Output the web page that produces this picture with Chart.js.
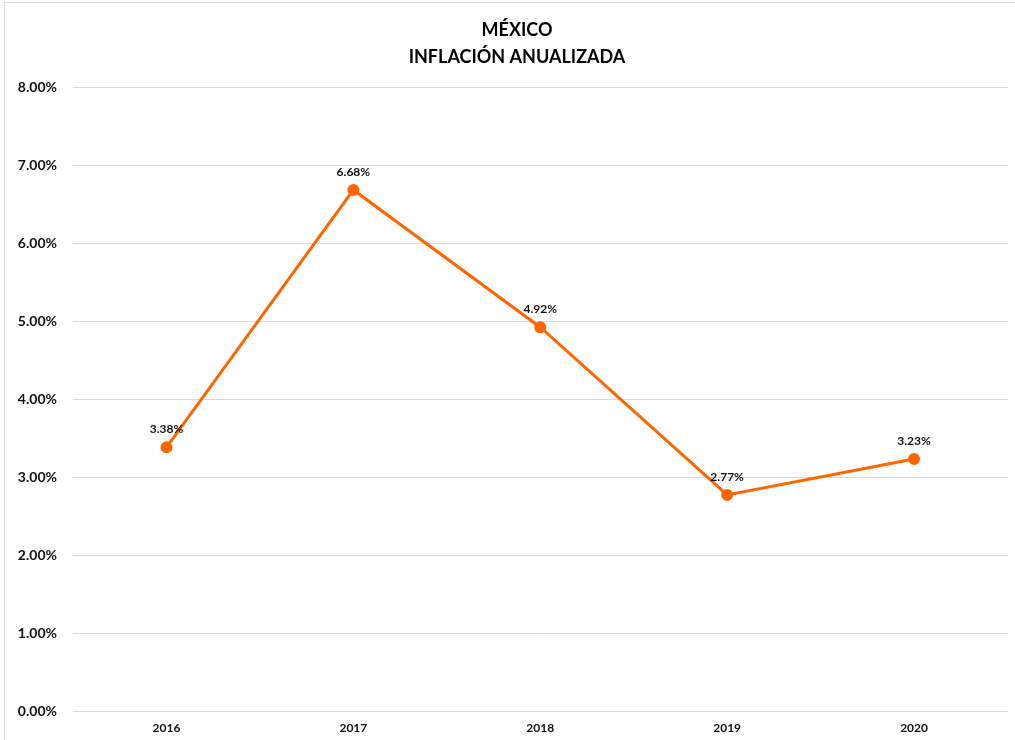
<!DOCTYPE html>
<html>
<head>
<meta charset="utf-8">
<script src="https://cdn.jsdelivr.net/npm/chart.js@4"></script>
<style>
  html, body { margin: 0; padding: 0; background: #fff; }
  #wrap { width: 1015px; height: 740px; position: relative; }
</style>
</head>
<body>
<div id="wrap"><canvas id="lineChart"></canvas></div>
<script>
var years = ["2016", "2017", "2018", "2019", "2020"];
var inflation = [3.38, 6.68, 4.92, 2.77, 3.23];
var titleLines = ["MÉXICO", "INFLACIÓN ANUALIZADA"];
var yMin = 0;
var yMax = 8;
var yStep = 1;

var orange = "rgb(255, 102, 0)";
var fontFamily = "Lato, 'Noto Sans', sans-serif";

// labels above each point
var pointLabels = {
  id: "pointLabels",
  afterDatasetsDraw: function (chart) {
    var ctx = chart.ctx;
    var meta = chart.getDatasetMeta(0);
    ctx.save();
    ctx.font = "bold 12px " + fontFamily;
    ctx.fillStyle = "#111";
    ctx.textAlign = "center";
    ctx.textBaseline = "middle";
    meta.data.forEach(function (pt, i) {
      ctx.fillText(inflation[i].toFixed(2) + "%", pt.x, pt.y - 18);
    });
    ctx.restore();
  },
};

// two-line title, centred a bit right of the canvas middle like the original
var titleText = {
  id: "titleText",
  afterDraw: function (chart) {
    var ctx = chart.ctx;
    ctx.save();
    ctx.font = "bold 18px " + fontFamily;
    ctx.fillStyle = "#000";
    ctx.textAlign = "center";
    ctx.textBaseline = "middle";
    titleLines.forEach(function (t, i) {
      ctx.fillText(t, 517, 30 + i * 27);
    });
    ctx.restore();
  },
};

// light frame like the spreadsheet chart box
var frame = {
  id: "frame",
  beforeDraw: function (chart) {
    var ctx = chart.ctx;
    ctx.save();
    ctx.strokeStyle = "#d9d9d9";
    ctx.lineWidth = 1;
    ctx.strokeRect(4.5, 2.5, chart.width, chart.height);
    ctx.restore();
  },
};

var ctx = document.getElementById("lineChart").getContext("2d");
var myChart = new Chart(ctx, {
  type: "line",
  data: {
    labels: years,
    datasets: [
      {
        label: "Inflación",
        data: inflation,
        borderColor: orange,
        backgroundColor: orange,
        borderWidth: 3,
        pointRadius: 4.5,
        pointHoverRadius: 4.5,
        tension: 0,
      },
    ],
  },
  options: {
    responsive: true,
    maintainAspectRatio: false,
    animation: false,
    layout: { padding: { left: 0, right: 5, top: 87, bottom: 0 } },
    plugins: {
      legend: { display: false },
      tooltip: { enabled: false },
      title: { display: false },
    },
    scales: {
      x: {
        offset: true,
        afterFit: function (scale) {
          scale.height = 29;
          scale.paddingLeft = 0;
          scale.paddingRight = 0;
        },
        grid: { display: false, drawTicks: false },
        border: { display: false },
        ticks: {
          color: "#111",
          padding: 10,
          font: { family: fontFamily, size: 12, weight: "bold" },
        },
      },
      y: {
        min: yMin,
        max: yMax,
        afterFit: function (scale) {
          scale.width = 73;
        },
        grid: { color: "#d9d9d9", lineWidth: 1, drawTicks: false },
        border: { display: false },
        ticks: {
          stepSize: yStep,
          color: "#111",
          padding: 16,
          font: { family: fontFamily, size: 14, weight: "bold" },
          callback: function (v) {
            return v.toFixed(2) + "%";
          },
        },
      },
    },
  },
  plugins: [frame, pointLabels, titleText],
});
</script>
</body>
</html>
